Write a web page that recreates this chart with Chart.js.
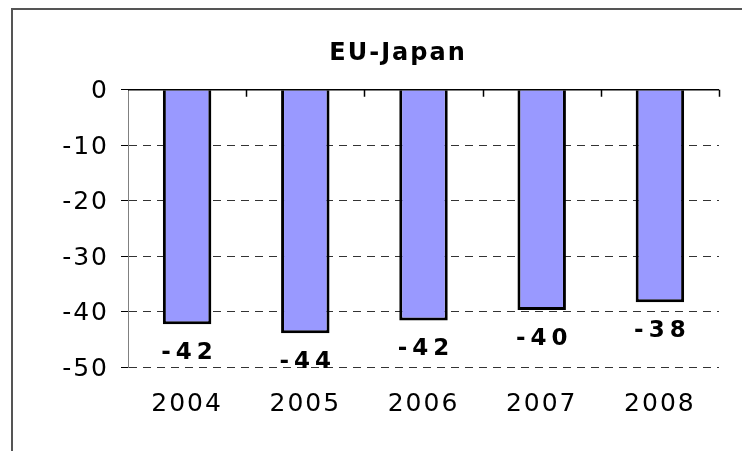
<!DOCTYPE html>
<html lang="en">
<head>
    <meta charset="UTF-8">
    <title>EU-Japan</title>
    <style>
        html, body {
            margin: 0;
            padding: 0;
            background: #fff;
            overflow: hidden;
        }

        /* Rahmen: nur links und oben sichtbar, Rest liegt ausserhalb */
        .frame {
            position: absolute;
            left: 11px;
            top: 8px;
            width: 770px;
            height: 460px;
            border-left: 2px solid #555;
            border-top: 2px solid #555;
        }
    </style>
</head>
<body>
    <div class="frame">
        <canvas id="chart"></canvas>
    </div>

    <script src="https://cdn.jsdelivr.net/npm/chart.js"></script>
    <script>
        // Daten
        var years = ['2004', '2005', '2006', '2007', '2008'];
        var balance = [-42.3, -43.9, -41.6, -39.7, -38.3];
        var yTicks = [0, -10, -20, -30, -40, -50];

        var FONT = "'DejaVu Sans', Verdana, sans-serif";

        // Wertebeschriftung, Nulllinie und Teilstriche
        var extras = {
            id: 'extras',
            beforeDraw: function (chart) {
                chart.ctx.letterSpacing = '2px';
            },
            afterDatasetsDraw: function (chart) {
                var ctx = chart.ctx;
                var x = chart.scales.x;
                var y = chart.scales.y;
                var y0 = y.getPixelForValue(0);
                var n = years.length;
                var step = (x.right - x.left) / n;

                ctx.save();
                ctx.strokeStyle = '#000';
                ctx.lineWidth = 1.5;
                ctx.setLineDash([]);
                ctx.beginPath();
                ctx.moveTo(x.left, y0);
                ctx.lineTo(x.right, y0);
                for (var i = 1; i <= n; i++) {
                    var tx = Math.round(x.left + i * step) + 0.5;
                    ctx.moveTo(tx, y0);
                    ctx.lineTo(tx, y0 + 7);
                }
                ctx.stroke();

                ctx.font = 'bold 23px ' + FONT;
                ctx.letterSpacing = '5px';
                ctx.fillStyle = '#000';
                ctx.textAlign = 'center';
                ctx.textBaseline = 'middle';
                chart.getDatasetMeta(0).data.forEach(function (bar, i) {
                    ctx.fillText(Math.round(balance[i]).toString(), bar.x + 2.5, bar.y + 29);
                });
                ctx.restore();
            }
        };

        var ctx = document.getElementById('chart').getContext('2d');
        var chart = new Chart(ctx, {
            type: 'bar',
            data: {
                labels: years,
                datasets: [{
                    label: 'EU-Japan',
                    data: balance,
                    backgroundColor: '#9999FF',
                    borderColor: '#000',
                    borderWidth: 3,
                    barPercentage: 0.41,
                    categoryPercentage: 1.0
                }]
            },
            options: {
                responsive: true,
                maintainAspectRatio: false,
                animation: false,
                layout: {
                    padding: 0
                },
                plugins: {
                    legend: { display: false },
                    tooltip: { enabled: false },
                    title: {
                        display: true,
                        text: 'EU-Japan',
                        color: '#000',
                        font: { family: FONT, size: 24, weight: 'bold' },
                        padding: { top: 29, bottom: 22 }
                    }
                },
                scales: {
                    x: {
                        grid: { display: false },
                        border: { display: false },
                        ticks: {
                            color: '#000',
                            padding: 14,
                            font: { family: FONT, size: 25 }
                        },
                        afterFit: function (scale) {
                            scale.height = 103;
                        }
                    },
                    y: {
                        min: -50,
                        max: 0,
                        afterBuildTicks: function (scale) {
                            scale.ticks = yTicks.map(function (v) { return { value: v }; });
                        },
                        grid: {
                            color: '#333',
                            lineWidth: 1,
                            tickLength: 7,
                            tickColor: '#000',
                            tickBorderDash: []
                        },
                        border: {
                            display: true,
                            color: '#808080',
                            width: 1,
                            dash: [8, 6]
                        },
                        ticks: {
                            color: '#000',
                            padding: 12,
                            labelOffset: 2,
                            font: { family: FONT, size: 25 }
                        },
                        afterFit: function (scale) {
                            scale.width = 115;
                        }
                    },
                    // leere rechte Achse als Abstand, damit der Titel mittig im Rahmen bleibt
                    yRight: {
                        position: 'right',
                        min: -50,
                        max: 0,
                        grid: { display: false },
                        border: { display: false },
                        ticks: { display: false },
                        afterFit: function (scale) {
                            scale.width = 64;
                        }
                    }
                }
            },
            plugins: [extras]
        });
    </script>
</body>
</html>
